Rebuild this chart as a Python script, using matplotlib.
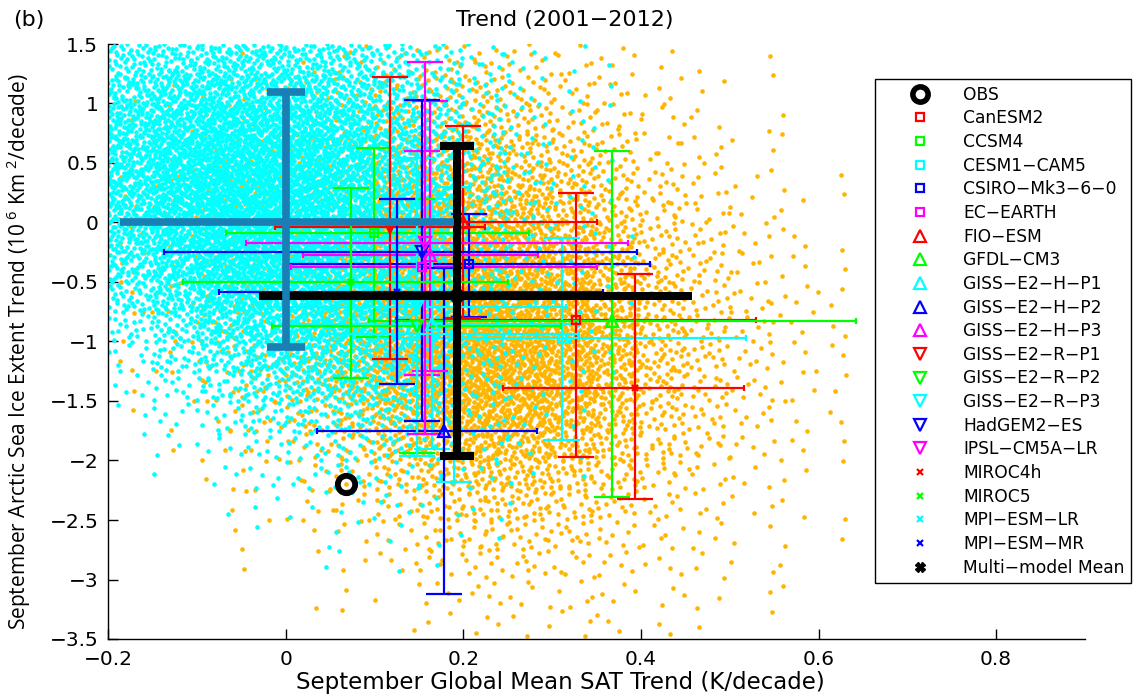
import numpy as np
import matplotlib
matplotlib.use("Agg")
import matplotlib.pyplot as plt
from matplotlib.lines import Line2D

plt.rcParams['font.family'] = ['DejaVu Sans']
plt.rcParams['mathtext.fontset'] = 'custom'
plt.rcParams['mathtext.rm'] = 'Open Sans'
plt.rcParams['mathtext.it'] = 'Open Sans'

# ---------------- data ----------------
models = ["CanESM2", "CCSM4", "CESM1\u2212CAM5", "CSIRO\u2212Mk3\u22126\u22120", "EC\u2212EARTH",
          "FIO\u2212ESM", "GFDL\u2212CM3", "GISS\u2212E2\u2212H\u2212P1", "GISS\u2212E2\u2212H\u2212P2",
          "GISS\u2212E2\u2212H\u2212P3", "GISS\u2212E2\u2212R\u2212P1", "GISS\u2212E2\u2212R\u2212P2",
          "GISS\u2212E2\u2212R\u2212P3", "HadGEM2\u2212ES", "IPSL\u2212CM5A\u2212LR", "MIROC4h",
          "MIROC5", "MPI\u2212ESM\u2212LR", "MPI\u2212ESM\u2212MR"]
sat_trend = [0.327, 0.099, 0.311, 0.207, 0.153, 0.200, 0.368, 0.165, 0.178, 0.162,
             0.117, 0.148, 0.148, 0.153, 0.157, 0.393, 0.074, 0.190, 0.125]
ice_trend = [-0.82, -0.09, -0.97, -0.35, -0.37, 0.00, -0.83, -0.85, -1.75, -0.27,
             -0.04, -0.87, -0.71, -0.25, -0.175, -1.39, -0.50, -0.94, -0.58]
sat_lo = [0.124, -0.067, 0.104, 0.000, 0.006, 0.050, 0.094, 0.000, 0.035, 0.020,
          -0.012, -0.015, -0.020, -0.137, -0.045, 0.245, -0.115, 0.050, -0.075]
sat_hi = [0.530, 0.274, 0.518, 0.410, 0.350, 0.350, 0.642, 0.330, 0.283, 0.284,
          0.225, 0.310, 0.316, 0.396, 0.385, 0.516, 0.250, 0.330, 0.357]
ice_lo = [-1.97, -0.96, -1.83, -0.79, -1.28, -0.80, -2.31, -1.90, -3.12, -1.25,
          -1.15, -1.94, -1.96, -1.67, -1.78, -2.32, -1.31, -2.18, -1.36]
ice_hi = [0.25, 0.63, -0.13, 0.07, 0.60, 0.81, 0.60, 0.20, -0.38, 1.02,
          1.22, 0.20, 0.54, 1.03, 1.35, -0.43, 0.29, 0.30, 0.20]

mmm = dict(x=0.193, y=-0.62, xlo=-0.03, xhi=0.458, ylo=-1.96, yhi=0.64)
ctrl = dict(x=0.0, y=0.0, xlo=-0.186, xhi=0.19, ylo=-1.05, yhi=1.10)
obs = (0.068, -2.20)

# density of scatter clouds: dots per cell, cells 0.05 (x, from -0.2) by 0.25 (y, from 1.5 downward)
cyan_density = [
    [45, 50, 55, 55, 50, 45, 30, 18, 9, 4, 2, 1],
    [60, 72, 78, 78, 72, 60, 40, 24, 11, 5, 2, 1],
    [72, 92, 104, 104, 96, 78, 50, 30, 14, 6, 3, 1],
    [80, 104, 124, 124, 114, 90, 60, 35, 17, 8, 3, 1],
    [85, 112, 135, 135, 122, 98, 66, 40, 20, 9, 4, 1],
    [80, 110, 135, 135, 125, 100, 70, 44, 21, 10, 4, 1],
    [70, 96, 122, 126, 118, 98, 70, 44, 21, 10, 4, 2],
    [54, 80, 102, 112, 110, 94, 68, 44, 21, 10, 4, 2],
    [36, 60, 84, 94, 98, 88, 64, 40, 19, 9, 4, 2],
    [20, 40, 60, 75, 80, 74, 54, 36, 17, 8, 3, 1],
    [10, 25, 40, 54, 60, 56, 44, 28, 14, 6, 3, 1],
    [5, 12, 24, 34, 40, 40, 33, 22, 11, 5, 2, 1],
    [2, 6, 12, 19, 24, 26, 23, 16, 8, 4, 2, 0],
    [1, 3, 6, 10, 13, 15, 14, 11, 6, 3, 1, 0],
    [0, 1, 3, 5, 7, 8, 8, 6, 4, 2, 1, 0],
    [0, 0, 1, 2, 3, 4, 4, 3, 2, 1, 0, 0],
    [0, 0, 0, 1, 1, 2, 2, 2, 1, 0, 0, 0],
    [0, 0, 0, 0, 1, 1, 1, 1, 0, 0, 0, 0],
    [0, 0, 0, 0, 0, 0, 0, 0, 0, 0, 0, 0],
    [0, 0, 0, 0, 0, 0, 0, 0, 0, 0, 0, 0],
]
orange_density = [
    [0, 0, 0, 1, 2, 5, 8, 10, 10, 8, 6, 4, 2, 1, 1, 0, 0, 0],
    [1, 1, 2, 3, 4, 8, 14, 18, 18, 14, 10, 7, 4, 2, 1, 0, 0, 0],
    [1, 2, 3, 5, 7, 12, 20, 26, 26, 20, 14, 10, 5, 3, 1, 1, 0, 0],
    [2, 3, 5, 8, 12, 18, 28, 36, 36, 28, 20, 14, 8, 4, 2, 1, 0, 0],
    [2, 4, 7, 10, 15, 24, 36, 46, 46, 38, 28, 18, 11, 6, 3, 1, 1, 0],
    [3, 5, 8, 12, 18, 30, 46, 58, 60, 50, 36, 24, 15, 9, 4, 2, 1, 0],
    [3, 5, 9, 14, 22, 36, 56, 72, 76, 64, 46, 30, 18, 11, 6, 3, 1, 1],
    [3, 5, 10, 16, 26, 42, 66, 86, 92, 80, 58, 38, 22, 13, 7, 3, 1, 1],
    [3, 5, 10, 17, 28, 46, 74, 98, 105, 92, 68, 44, 26, 14, 8, 4, 2, 1],
    [2, 4, 9, 16, 28, 46, 76, 102, 110, 98, 74, 48, 28, 16, 9, 4, 2, 1],
    [2, 3, 8, 14, 25, 42, 70, 96, 106, 96, 74, 48, 28, 16, 9, 4, 2, 1],
    [1, 2, 6, 11, 20, 35, 60, 84, 94, 86, 66, 44, 26, 14, 8, 4, 2, 1],
    [1, 1, 4, 8, 14, 26, 46, 66, 76, 70, 54, 36, 22, 12, 7, 3, 2, 1],
    [0, 1, 3, 5, 10, 18, 32, 48, 56, 52, 40, 28, 17, 10, 6, 3, 1, 1],
    [0, 0, 2, 3, 6, 11, 20, 32, 38, 36, 28, 20, 12, 7, 4, 2, 1, 0],
    [0, 0, 1, 2, 4, 7, 12, 20, 24, 24, 19, 14, 9, 5, 3, 2, 1, 0],
    [0, 0, 1, 1, 2, 4, 7, 12, 15, 15, 12, 9, 6, 4, 2, 1, 1, 0],
    [0, 0, 0, 1, 1, 2, 4, 7, 9, 9, 8, 6, 4, 3, 2, 1, 0, 0],
    [0, 0, 0, 0, 1, 1, 2, 4, 5, 5, 5, 4, 3, 2, 1, 1, 0, 0],
    [0, 0, 0, 0, 0, 1, 1, 2, 3, 3, 3, 3, 2, 1, 1, 0, 0, 0],
]
cell_x0, cell_y_top, cell_dx, cell_dy = -0.2, 1.5, 0.05, 0.25

xticks = [-0.2, 0, 0.2, 0.4, 0.6, 0.8]
xticklabels = ["\u22120.2", "0", "0.2", "0.4", "0.6", "0.8"]
yticks = [-3.5, -3, -2.5, -2, -1.5, -1, -0.5, 0, 0.5, 1, 1.5]
yticklabels = ["\u22123.5", "\u22123", "\u22122.5", "\u22122", "\u22121.5", "\u22121",
               "\u22120.5", "0", "0.5", "1", "1.5"]

# ---------------- styles ----------------
RED, GREEN, CYAN, BLUE, MAG = "#ff0000", "#00ff00", "#00ffff", "#0000ff", "#ff00ff"
colors = [RED, GREEN, CYAN, BLUE, MAG, RED, GREEN, CYAN, BLUE, MAG,
          RED, GREEN, CYAN, BLUE, MAG, RED, GREEN, CYAN, BLUE]
markers = ["s"] * 5 + ["^"] * 5 + ["v"] * 5 + ["x"] * 4
ORANGE = "#ffb400"
TEAL = "#1a7fb5"


def radical_inverse(idx, base):
    idx = np.array(idx, dtype=np.int64)
    res = np.zeros(idx.shape, dtype=float)
    f = 1.0 / base
    while np.any(idx > 0):
        res += f * (idx % base)
        idx //= base
        f /= base
    return res


def cloud_points(density, offset):
    xs, ys = [], []
    for r, row in enumerate(density):
        for c, n in enumerate(row):
            if n <= 0:
                continue
            start = offset + (r * 40 + c) * 997
            idx = np.arange(start, start + n)
            xs.append(cell_x0 + c * cell_dx + radical_inverse(idx, 2) * cell_dx)
            ys.append(cell_y_top - (r + 1) * cell_dy + radical_inverse(idx, 3) * cell_dy)
    return np.concatenate(xs), np.concatenate(ys)


fig = plt.figure(figsize=(11.4, 6.95), dpi=100)
ax = fig.add_axes([108 / 1140, 1 - 639 / 695, (1085 - 108) / 1140, (639 - 44) / 695])

ox, oy = cloud_points(orange_density, 17)
ax.scatter(ox, oy, s=11, c=ORANGE, linewidths=0, zorder=1)
cx, cy = cloud_points(cyan_density, 523)
ax.scatter(cx, cy, s=11, c=CYAN, linewidths=0, zorder=2)


def cross(d, color, lw, ycap, xcap, z, marker=None, ms=7):
    x, y = d["x"], d["y"]
    yerr = [[y - d["ylo"]], [d["yhi"] - y]]
    xerr = [[x - d["xlo"]], [d["xhi"] - x]]
    ax.errorbar([x], [y], yerr=yerr, fmt="none", ecolor=color, elinewidth=lw,
                capsize=ycap, capthick=lw, zorder=z)
    ax.errorbar([x], [y], xerr=xerr, fmt="none", ecolor=color, elinewidth=lw,
                capsize=xcap, capthick=lw, zorder=z)
    if marker:
        ax.plot([x], [y], marker=marker, ms=ms, mfc="none", mec=color, mew=1.6,
                ls="none", zorder=z + 0.1)


def marker_size(m):
    return 6 if m == "s" else (8 if m in "^v" else 5)


for i, name in enumerate(models):
    d = dict(x=sat_trend[i], y=ice_trend[i], xlo=sat_lo[i], xhi=sat_hi[i],
             ylo=ice_lo[i], yhi=ice_hi[i])
    cross(d, colors[i], 1.6, 13, 2.2, 3 + i * 0.01, markers[i], marker_size(markers[i]))

cross(mmm, "black", 5.8, 12, 0, 5, "X", 8)
cross(ctrl, TEAL, 5.5, 14, 0, 6)
ax.plot([obs[0]], [obs[1]], marker="o", ms=12.5, mfc="none", mec="black", mew=4.2,
        ls="none", zorder=7)

ax.set_xlim(-0.2, 0.9)
ax.set_ylim(-3.5, 1.5)
ax.set_xticks(xticks)
ax.set_xticklabels(xticklabels)
ax.set_yticks(yticks)
ax.set_yticklabels(yticklabels)
ax.tick_params(direction="in", length=7, width=1, labelsize=14.5)
ax.tick_params(axis="y", pad=7)
ax.tick_params(axis="x", pad=8)
for s in ["top", "right"]:
    ax.spines[s].set_visible(False)
for s in ["left", "bottom"]:
    ax.spines[s].set_linewidth(1)

fig.text(565 / 1140, 1 - 20 / 695, "Trend (2001\u22122012)", ha="center", va="center", fontsize=16)
fig.text(13 / 1140, 1 - 20 / 695, "(b)", ha="left", va="center", fontsize=16)
fig.text(560 / 1140, 1 - 683 / 695, "September Global Mean SAT Trend (K/decade)",
         ha="center", va="center", fontsize=16.5)
fig.text(19 / 1140, 1 - 352 / 695,
         "September Arctic Sea Ice Extent Trend (10$^{\\ 6}$ Km$^{\\ 2}$/decade)",
         ha="center", va="center", rotation=90, fontsize=15, family="Open Sans")

# legend
handles = [Line2D([], [], marker="o", ms=11, mfc="none", mec="black", mew=4, ls="none")]
labels = ["OBS"]
for i, name in enumerate(models):
    handles.append(Line2D([], [], marker=markers[i], ms=marker_size(markers[i]), mfc="none",
                          mec=colors[i], mew=1.6, ls="none"))
    labels.append(name)
handles.append(Line2D([], [], marker="X", ms=7, mfc="black", mec="black", ls="none"))
labels.append("Multi\u2212model Mean")
leg = fig.legend(handles, labels, loc="upper left",
                 bbox_to_anchor=(875 / 1140, 1 - 79 / 695), fontsize=12.3,
                 frameon=True, fancybox=False, edgecolor="black", framealpha=1,
                 labelspacing=0.33, handletextpad=0.25, borderpad=0.4,
                 handlelength=4.5, borderaxespad=0)
leg.get_frame().set_linewidth(1)

fig.savefig("out.png", dpi=100)
